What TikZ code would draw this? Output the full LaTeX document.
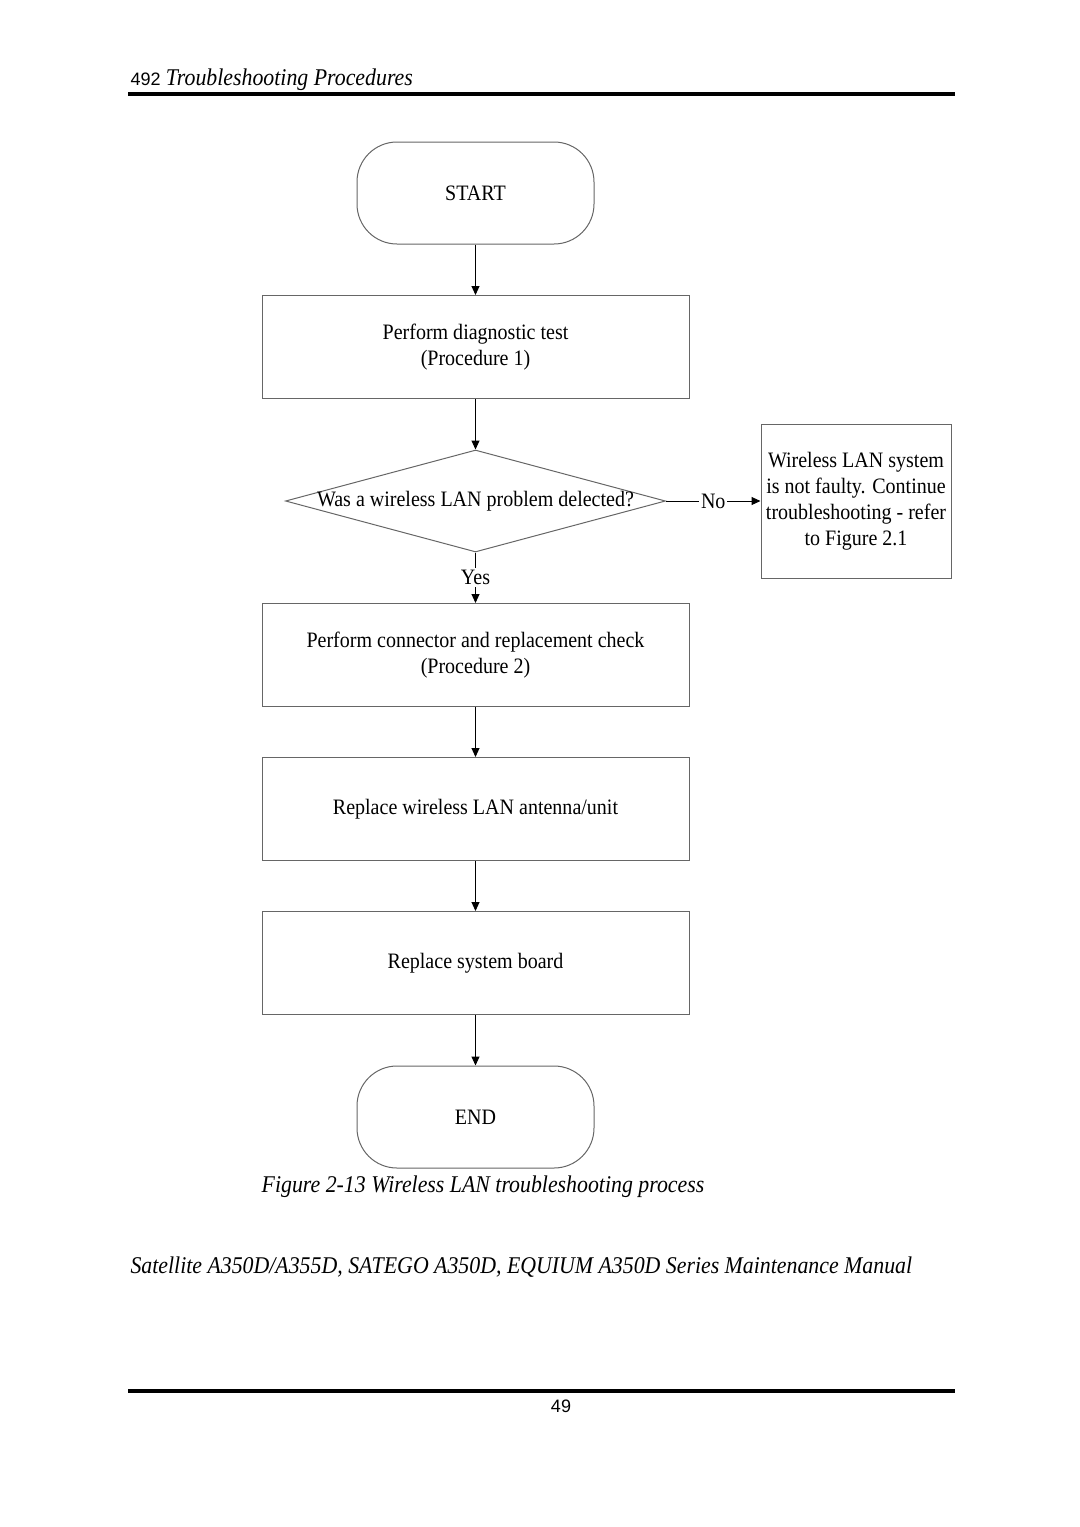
\documentclass[tikz,border=0pt]{standalone}
\usepackage{fontspec}
\setmainfont[FakeStretch=0.91]{Liberation Serif}
\newfontfamily\pagenumfont{Liberation Sans}
\usetikzlibrary{shapes.geometric,arrows.meta}

\begin{document}
\begin{tikzpicture}[x=0.5pt, y=-0.5pt, node distance={77pt}, line width=0.5pt, >={Triangle[length=4.5pt,width=4pt]}, font=\fontsize{11}{13}\selectfont, term/.style = {draw=black!60, rounded corners=20pt, minimum width=118.5pt, minimum height=51pt}, proc/.style = {draw=black!60, minimum width=213.5pt, minimum height=51.5pt, align=center}, decision/.style = {draw=black!60, diamond, minimum width=190pt, minimum height=51pt, inner sep=0pt}, note/.style = {draw=black!60, minimum width=95pt, minimum height=77pt, inner sep=1pt, align=center}, gap/.style = {fill=white, inner sep=1pt}]
\useasboundingbox (0,0) rectangle (1080,1527);
% page header
\node[anchor=base west, inner sep=0pt, font=\fontsize{12}{14}\selectfont] (head) at (130,85) {{\pagenumfont\fontsize{9}{11}\selectfont 492} \textit{Troubleshooting Procedures}};
\draw[line width=2pt] (128,94) -- (955,94);
% flow chart
\node[term] (0) at (475.5,193) {START};
\node[proc] (1) [below of=0] {Perform diagnostic test\\(Procedure 1)};
\node[decision, label=center:{Was a wireless LAN problem delected?}] (2) [below of=1] {};
\node[proc] (3) [below of=2] {Perform connector and replacement check\\(Procedure 2)};
\node[proc] (4) [below of=3] {Replace wireless LAN antenna/unit};
\node[proc] (5) [below of=4] {Replace system board};
\node[term] (6) [below of=5] {END};
\node[note] (7) [node distance=190.25pt, right of=2] {Wireless LAN system\\is not faulty. Continue\\troubleshooting - refer\\to Figure 2.1};
\draw[->] (0) -- (1);
\draw[->] (1) -- (2);
\draw[->] (2) -- node[gap] {Yes} (3);
\draw[->] (2) -- node[gap] {No} (7);
\draw[->] (3) -- (4);
\draw[->] (4) -- (5);
\draw[->] (5) -- (6);
% caption and footer
\node[font=\fontsize{12}{14}\selectfont\itshape] (cap) at (483,1187) {Figure 2-13 Wireless LAN troubleshooting process};
\node[anchor=base west, inner sep=0pt, font=\fontsize{12}{14}\selectfont\itshape] (manual) at (130,1273) {Satellite A350D/A355D, SATEGO A350D, EQUIUM A350D Series Maintenance Manual};
\draw[line width=2pt] (128,1391) -- (955,1391);
\node[anchor=base, font=\pagenumfont\fontsize{9}{11}\selectfont] (page) at (561,1412) {49};
\end{tikzpicture}
\end{document}
